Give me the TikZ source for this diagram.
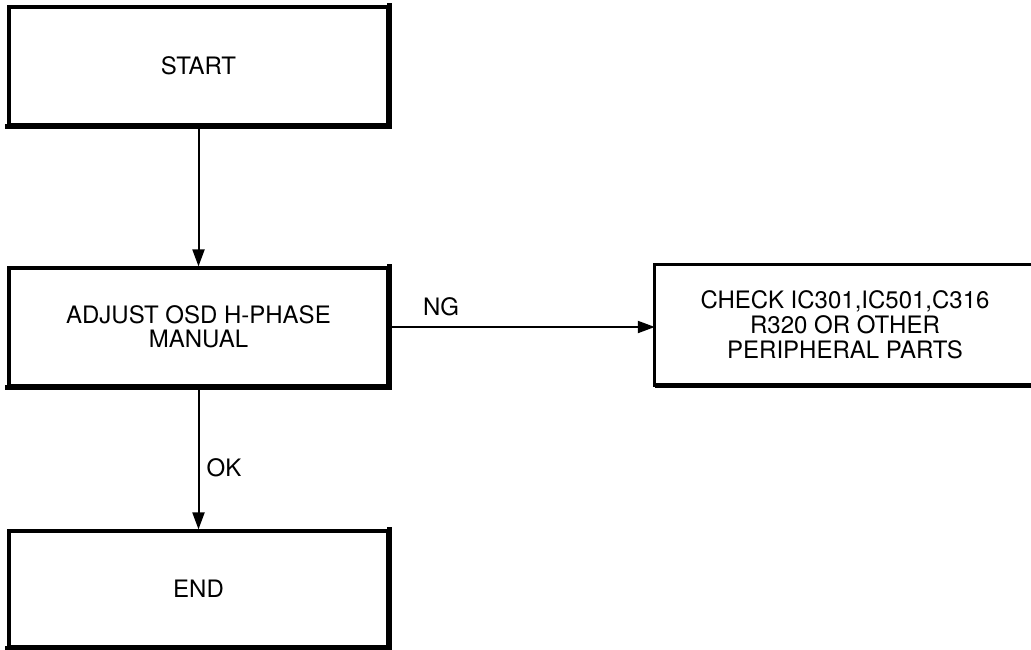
\documentclass[tikz,border=0pt]{standalone}
\usepackage{fontspec}
\setmainfont{TeX Gyre Heros}
\usetikzlibrary{arrows.meta}
\begin{document}
\begin{tikzpicture}[x=1pt,y=-1pt,
  flowbox/.style={draw=black, line width=3.2pt, fill=white, align=center,
    inner sep=0pt, font=\fontsize{24}{23.5}\selectfont},
  flowline/.style={line width=2pt, -{Triangle[length=17pt,width=12pt]}},
  tag/.style={font=\fontsize{24}{24}\selectfont, inner sep=0pt}]
  \useasboundingbox (0,0) rectangle (1031,650);

  % process boxes
  \node[flowbox, minimum width=379pt, minimum height=118pt] (start) at (198.5,66) {START};
  \node[flowbox, minimum width=379pt, minimum height=118pt] (adjust) at (198.5,327)
    {ADJUST OSD H-PHASE\\MANUAL};
  \node[flowbox, minimum width=379pt, minimum height=116pt] (finish) at (198.5,589) {END};
  % text of the box on the right; its frame runs on past the page edge
  \node[align=center, inner sep=0pt, font=\fontsize{24}{25}\selectfont,
    minimum width=380pt, minimum height=120pt] (check) at (845,325)
    {CHECK IC301,IC501,C316\\R320 OR OTHER\\PERIPHERAL PARTS};
  \begin{scope}
    \clip (0,0) rectangle (1031,650);
    \draw[line width=3.2pt] (check.north east) ++(40,0) -- (check.north west)
      -- (check.south west) -- ++(420,0);
    \draw[line width=5pt] (check.south west) -- ++(420,0);
  \end{scope}

  % heavier bottom and right edges
  \foreach \b in {start,adjust,finish}{
    \draw[line width=5pt, line cap=rect] (\b.south west) -- (\b.south east) -- (\b.north east);
  }

  % connectors
  \draw[flowline] (start.south) -- (adjust.north);
  \draw[flowline] (adjust.south) -- (finish.north);
  \draw[flowline] (adjust.east) -- (adjust.east -| check.west);

  % branch labels
  \node[tag] (ng) at (441,307) {NG};
  \node[tag] (ok) at (224,468) {OK};
\end{tikzpicture}
\end{document}
